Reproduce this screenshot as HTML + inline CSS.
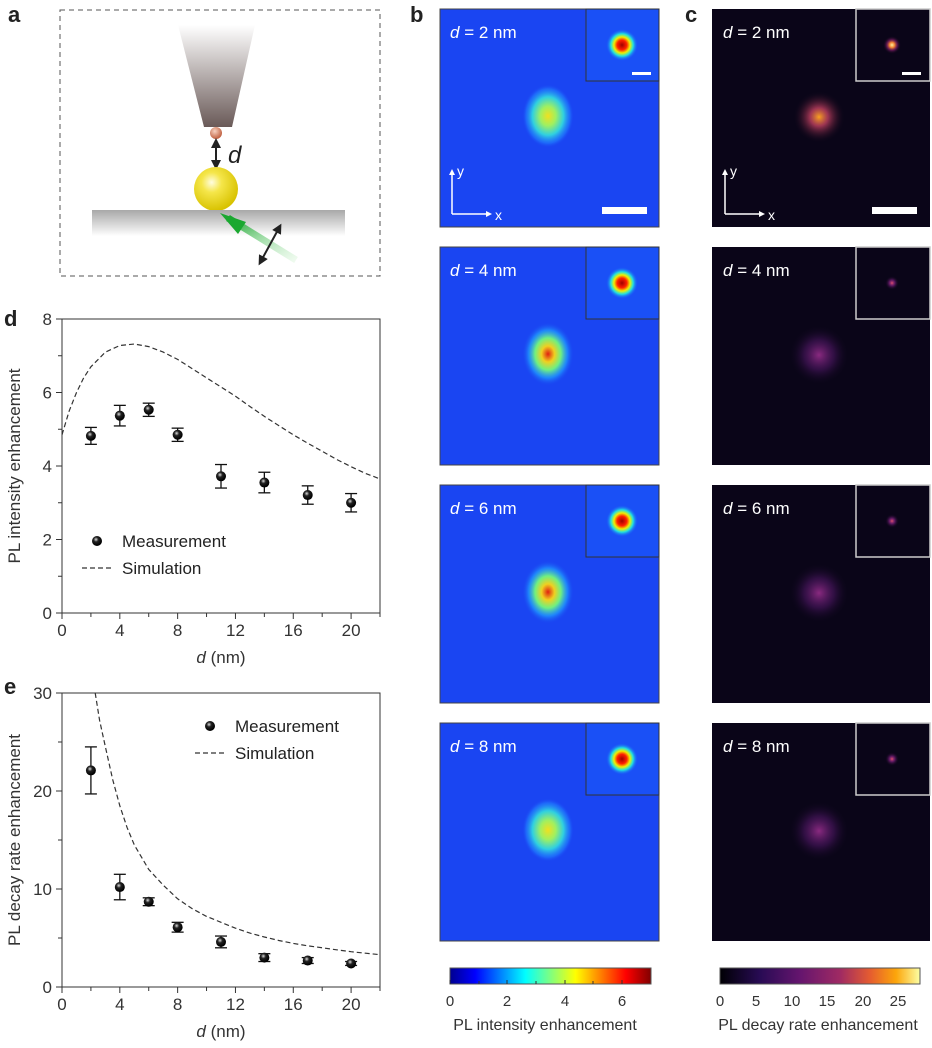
<!DOCTYPE html>
<html><head><meta charset="utf-8"><style>
html,body{margin:0;padding:0;background:#fff}
svg text{font-family:"Liberation Sans",sans-serif}
</style></head><body>
<svg id="fig" width="932" height="1043" viewBox="0 0 932 1043" xmlns="http://www.w3.org/2000/svg">
<defs>
<linearGradient id="tipg" x1="0" y1="0" x2="0" y2="1"><stop offset="0" stop-color="#fff"/><stop offset="1" stop-color="#6a5a58"/></linearGradient>
<radialGradient id="goldg" cx="0.4" cy="0.35" r="0.65"><stop offset="0" stop-color="#fffde0"/><stop offset="0.35" stop-color="#f5e64a"/><stop offset="1" stop-color="#d8c200"/></radialGradient>
<radialGradient id="smallg" cx="0.4" cy="0.35" r="0.65"><stop offset="0" stop-color="#f7d2c0"/><stop offset="1" stop-color="#c06040"/></radialGradient>
<linearGradient id="subg" x1="0" y1="0" x2="0" y2="1"><stop offset="0" stop-color="#a8a8a8"/><stop offset="1" stop-color="#ffffff"/></linearGradient>
<linearGradient id="greeng" x1="1" y1="1" x2="0" y2="0"><stop offset="0" stop-color="#c8f0c8" stop-opacity="0.3"/><stop offset="1" stop-color="#1aa830"/></linearGradient>
<radialGradient id="jetspot"><stop offset="0" stop-color="#f0e020"/><stop offset="0.3" stop-color="#a0f060"/><stop offset="0.6" stop-color="#30d0e0"/><stop offset="0.85" stop-color="#2080ff" stop-opacity="0.6"/><stop offset="1" stop-color="#1a40f0" stop-opacity="0"/></radialGradient>
<radialGradient id="jetspot2"><stop offset="0" stop-color="#e02010"/><stop offset="0.25" stop-color="#f0d020"/><stop offset="0.5" stop-color="#70f080"/><stop offset="0.75" stop-color="#20a0ff" stop-opacity="0.7"/><stop offset="1" stop-color="#1a40f0" stop-opacity="0"/></radialGradient>
<radialGradient id="jetinset"><stop offset="0" stop-color="#a00000"/><stop offset="0.3" stop-color="#ff2000"/><stop offset="0.5" stop-color="#f0f000"/><stop offset="0.7" stop-color="#20e0e0"/><stop offset="1" stop-color="#1a50ff" stop-opacity="0"/></radialGradient>
<radialGradient id="infspot"><stop offset="0" stop-color="#f8a020"/><stop offset="0.35" stop-color="#c04060" stop-opacity="0.8"/><stop offset="1" stop-color="#0a0518" stop-opacity="0"/></radialGradient>
<radialGradient id="infspot2"><stop offset="0" stop-color="#8a2a80"/><stop offset="0.5" stop-color="#4a1660" stop-opacity="0.6"/><stop offset="1" stop-color="#0a0518" stop-opacity="0"/></radialGradient>
<radialGradient id="infinset"><stop offset="0" stop-color="#fff0a0"/><stop offset="0.3" stop-color="#f08030"/><stop offset="0.6" stop-color="#902070" stop-opacity="0.6"/><stop offset="1" stop-color="#0a0518" stop-opacity="0"/></radialGradient>
<radialGradient id="infinset2"><stop offset="0" stop-color="#e05070"/><stop offset="0.4" stop-color="#802080" stop-opacity="0.7"/><stop offset="1" stop-color="#0a0518" stop-opacity="0"/></radialGradient>
<linearGradient id="jetbar" x1="0" x2="1"><stop offset="0" stop-color="#00008f"/><stop offset="0.125" stop-color="#0000ff"/><stop offset="0.375" stop-color="#00ffff"/><stop offset="0.625" stop-color="#ffff00"/><stop offset="0.875" stop-color="#ff0000"/><stop offset="1" stop-color="#800000"/></linearGradient>
<linearGradient id="infbar" x1="0" x2="1"><stop offset="0" stop-color="#000004"/><stop offset="0.2" stop-color="#280b54"/><stop offset="0.4" stop-color="#65156e"/><stop offset="0.6" stop-color="#9f2a63"/><stop offset="0.75" stop-color="#e55c30"/><stop offset="0.88" stop-color="#fca50a"/><stop offset="1" stop-color="#fcffa4"/></linearGradient>
<marker id="ah" viewBox="0 0 10 10" refX="5" refY="5" markerWidth="5" markerHeight="5" orient="auto-start-reverse"><path d="M0,0 L10,5 L0,10 z" fill="#222"/></marker>
<marker id="wh" viewBox="0 0 10 10" refX="5" refY="5" markerWidth="4" markerHeight="4" orient="auto"><path d="M0,0 L10,5 L0,10 z" fill="#fff"/></marker>
<radialGradient id="ball" cx="0.4" cy="0.35" r="0.6"><stop offset="0" stop-color="#ddd"/><stop offset="0.4" stop-color="#222"/><stop offset="1" stop-color="#000"/></radialGradient>
</defs>

<!-- Panel a -->
<g>
<text x="8" y="22" font-size="22" font-weight="bold" fill="#222">a</text>
<rect x="60" y="10" width="320" height="266" fill="none" stroke="#555" stroke-dasharray="5,4"/>
<polygon points="178,25 255,25 232,127 204,127" fill="url(#tipg)"/>
<circle cx="216" cy="133" r="6" fill="url(#smallg)"/>
<line x1="216" y1="143" x2="216" y2="165" stroke="#222" stroke-width="2" marker-start="url(#ah)" marker-end="url(#ah)"/>
<text x="228" y="163" font-size="24" font-style="italic" fill="#222">d</text>
<circle cx="216" cy="189" r="22" fill="url(#goldg)"/>
<rect x="92" y="210" width="253" height="26" fill="url(#subg)"/>
<line x1="296" y1="260" x2="228" y2="218" stroke="url(#greeng)" stroke-width="7"/>
<polygon points="220,213 246,222 238,234" fill="#1aa830"/>
<line x1="261" y1="261" x2="279" y2="228" stroke="#222" stroke-width="2" marker-start="url(#ah)" marker-end="url(#ah)"/>
</g>

<text x="410" y="22" font-size="22" font-weight="bold" fill="#222">b</text>
<text x="685" y="22" font-size="22" font-weight="bold" fill="#222">c</text>
<text x="4" y="326" font-size="22" font-weight="bold" fill="#222">d</text>
<text x="4" y="694" font-size="22" font-weight="bold" fill="#222">e</text>

<g id="maps"></g>
<g id="chartD"></g>
<g id="chartE"></g>

<!-- colorbars -->
<g>
<rect x="450" y="968" width="201" height="16" fill="url(#jetbar)" stroke="#555"/>
<g font-size="15" fill="#333" text-anchor="middle">
<text x="450" y="1006">0</text><text x="507" y="1006">2</text><text x="565" y="1006">4</text><text x="622" y="1006">6</text>
</g>
<g stroke="#333"><line x1="450" y1="984" x2="450" y2="980"/><line x1="479" y1="984" x2="479" y2="981"/><line x1="507" y1="984" x2="507" y2="980"/><line x1="536" y1="984" x2="536" y2="981"/><line x1="565" y1="984" x2="565" y2="980"/><line x1="593" y1="984" x2="593" y2="981"/><line x1="622" y1="984" x2="622" y2="980"/></g>
<text x="545" y="1030" font-size="16" fill="#333" text-anchor="middle">PL intensity enhancement</text>
</g>
<g>
<rect x="720" y="968" width="200" height="16" fill="url(#infbar)" stroke="#555"/>
<g font-size="15" fill="#333" text-anchor="middle">
<text x="720" y="1006">0</text><text x="756" y="1006">5</text><text x="792" y="1006">10</text><text x="827" y="1006">15</text><text x="863" y="1006">20</text><text x="898" y="1006">25</text>
</g>
<text x="818" y="1030" font-size="16" fill="#333" text-anchor="middle">PL decay rate enhancement</text>
</g>
</svg>
<script>
const NS='http://www.w3.org/2000/svg';
function mk(tag,attrs,parent){const e=document.createElementNS(NS,tag);for(const k in attrs)e.setAttribute(k,attrs[k]);parent.appendChild(e);return e;}

// ---- maps ----
const mapDistances=['2','4','6','8'];
const maps=document.getElementById('maps');
const rowsY=[9,247,485,723];
mapDistances.forEach((dv,i)=>{
  const y0=rowsY[i];
  // b panel
  const gb=mk('g',{},maps);
  
  
  mk('rect',{x:440,y:y0,width:219,height:218,fill:'#1a45f2',stroke:'#444','stroke-width':1},gb);
  mk('ellipse',{cx:548,cy:y0+107,rx:26,ry:32,fill:i==0||i==3?'url(#jetspot)':'url(#jetspot2)'},gb);
  mk('rect',{x:586,y:y0,width:73,height:72,fill:'#1a50f6',stroke:'#333','stroke-width':1},gb);
  mk('circle',{cx:622,cy:y0+36,r:16,fill:'url(#jetinset)'},gb);
  const tb=mk('text',{x:450,y:y0+29,'font-size':17,fill:'#fff'},gb);
  tb.innerHTML='<tspan font-style="italic">d</tspan> = '+dv+' nm';
  // c panel
  const gc=mk('g',{},maps);
  
  
  mk('rect',{x:712,y:y0,width:218,height:218,fill:'#0a0518'},gc);
  mk('circle',{cx:819,cy:y0+108,r:i==0?26:30,fill:i==0?'url(#infspot)':'url(#infspot2)'},gc);
  mk('rect',{x:856,y:y0,width:74,height:72,fill:'#0a0518',stroke:'#ccc','stroke-width':1.5},gc);
  mk('circle',{cx:892,cy:y0+36,r:i==0?9:7,fill:i==0?'url(#infinset)':'url(#infinset2)'},gc);
  const tc=mk('text',{x:723,y:y0+29,'font-size':17,fill:'#fff'},gc);
  tc.innerHTML='<tspan font-style="italic">d</tspan> = '+dv+' nm';
  if(i==0){
    // axes arrows and scale bars
    [[452,0],[725,0]].forEach(([ax])=>{
      mk('line',{x1:ax,y1:y0+205,x2:ax,y2:y0+163,stroke:'#fff','stroke-width':1.5,'marker-end':'url(#wh)'},maps);
      mk('line',{x1:ax,y1:y0+205,x2:ax+37,y2:y0+205,stroke:'#fff','stroke-width':1.5,'marker-end':'url(#wh)'},maps);
      const ty=mk('text',{x:ax+5,y:y0+167,'font-size':14,fill:'#fff'},maps);ty.textContent='y';
      const tx=mk('text',{x:ax+43,y:y0+211,'font-size':14,fill:'#fff'},maps);tx.textContent='x';
    });
    mk('rect',{x:602,y:y0+198,width:45,height:7,fill:'#fff'},maps);
    mk('rect',{x:872,y:y0+198,width:45,height:7,fill:'#fff'},maps);
    mk('rect',{x:632,y:y0+63,width:19,height:3,fill:'#fff'},maps);
    mk('rect',{x:902,y:y0+63,width:19,height:3,fill:'#fff'},maps);
  }
});

// ---- charts ----
const measX=[2,4,6,8,11,14,17,20];
const intensityVals=[4.82,5.37,5.53,4.85,3.72,3.55,3.21,3.0];
const intensityErr=[0.23,0.28,0.18,0.18,0.32,0.28,0.25,0.25];
const intensitySimX=[0,0.5,1,1.5,2,3,4,5,6,7,8,9,10,11,12,13,14,15,16,17,18,19,20,21,22];
const intensitySimY=[4.85,5.5,6.0,6.4,6.7,7.1,7.28,7.32,7.25,7.1,6.9,6.65,6.4,6.15,5.9,5.62,5.35,5.1,4.85,4.62,4.4,4.18,3.98,3.8,3.65];
const intensityTicks=[0,2,4,6,8];
const decayVals=[22.1,10.2,8.7,6.1,4.6,3.0,2.7,2.4];
const decayErr=[2.4,1.3,0.4,0.5,0.6,0.4,0.3,0.2];
const decaySimX=[2.3,2.6,3,3.5,4,4.5,5,6,7,8,9,10,11,12,13,14,15,16,17,18,19,20,21,22];
const decaySimY=[30,27.2,24.5,21.2,18.5,16.3,14.5,12,10.4,9.0,8.0,7.2,6.6,6.0,5.5,5.1,4.75,4.45,4.2,4.0,3.8,3.6,3.45,3.3];
const decayTicks=[0,10,20,30];
const xTicks=[0,4,8,12,16,20];

function chart(gid,top,bottom,ymax,yTicks,ytitle,vals,errs,sx,sy,legend){
  const g=document.getElementById(gid);
  const L=62,R=380;
  const X=v=>L+(v/22)*(R-L);
  const Y=v=>bottom-(v/ymax)*(bottom-top);
  const frame=mk('rect',{x:L,y:top,width:R-L,height:bottom-top,fill:'none',stroke:'#333','stroke-width':1},g);
  
  
  for(let v=0;v<=22;v+=2){
    const major=xTicks.includes(v);
    mk('line',{x1:X(v),y1:bottom,x2:X(v),y2:bottom+(major?6:4),stroke:'#333'},g);
  }
  xTicks.forEach(v=>{const t=mk('text',{x:X(v),y:bottom+23,'font-size':17,fill:'#333','text-anchor':'middle'},g);t.textContent=v;
    
    });
  const step=yTicks[1]-yTicks[0];
  for(let v=0;v<=ymax+1e-9;v+=step/2){
    const major=Math.abs(v/step-Math.round(v/step))<1e-6;
    mk('line',{x1:L,y1:Y(v),x2:L-(major?6:4),y2:Y(v),stroke:'#333'},g);
  }
  yTicks.forEach(v=>{const t=mk('text',{x:L-10,y:Y(v)+6,'font-size':17,fill:'#333','text-anchor':'end'},g);t.textContent=v;
    
    });
  const xt=mk('text',{x:(L+R)/2,y:bottom+50,'font-size':17,fill:'#333','text-anchor':'middle'},g);
  xt.innerHTML='<tspan font-style="italic">d</tspan> (nm)';
  
  
  const yt=mk('text',{x:0,y:0,'font-size':17,fill:'#333','text-anchor':'middle',transform:`translate(20,${(top+bottom)/2}) rotate(-90)`},g);
  yt.textContent=ytitle;
  
  
  // simulation
  let d='';sx.forEach((x,i)=>{d+=(i?'L':'M')+X(x).toFixed(1)+','+Y(sy[i]).toFixed(1);});
  const sim=mk('path',{d:d,fill:'none',stroke:'#333','stroke-width':1.2,'stroke-dasharray':'5,3'},g);
  
  
  // measurement
  measX.forEach((x,i)=>{
    const pg=mk('g',{},g);
    
    
    const cx=X(x),y1=Y(vals[i]+errs[i]),y2=Y(vals[i]-errs[i]);
    mk('line',{x1:cx,y1:y1,x2:cx,y2:y2,stroke:'#111','stroke-width':1.3},pg);
    mk('line',{x1:cx-6,y1:y1,x2:cx+6,y2:y1,stroke:'#111','stroke-width':1.3},pg);
    mk('line',{x1:cx-6,y1:y2,x2:cx+6,y2:y2,stroke:'#111','stroke-width':1.3},pg);
    mk('circle',{cx:cx,cy:Y(vals[i]),r:5,fill:'url(#ball)'},pg);
  });
  // legend
  const lg=mk('g',{},g);
  
  
  mk('circle',{cx:legend.x,cy:legend.y,r:5,fill:'url(#ball)'},lg);
  const t1=mk('text',{x:legend.x+25,y:legend.y+6,'font-size':17,fill:'#222'},lg);t1.textContent='Measurement';
  mk('line',{x1:legend.x-15,y1:legend.y+27,x2:legend.x+15,y2:legend.y+27,stroke:'#333','stroke-width':1.2,'stroke-dasharray':'5,3'},lg);
  const t2=mk('text',{x:legend.x+25,y:legend.y+33,'font-size':17,fill:'#222'},lg);t2.textContent='Simulation';
}
chart('chartD',319,613,8,intensityTicks,'PL intensity enhancement',intensityVals,intensityErr,intensitySimX,intensitySimY,{x:97,y:541});
chart('chartE',693,987,30,decayTicks,'PL decay rate enhancement',decayVals,decayErr,decaySimX,decaySimY,{x:210,y:726});
</script>
</body></html>
